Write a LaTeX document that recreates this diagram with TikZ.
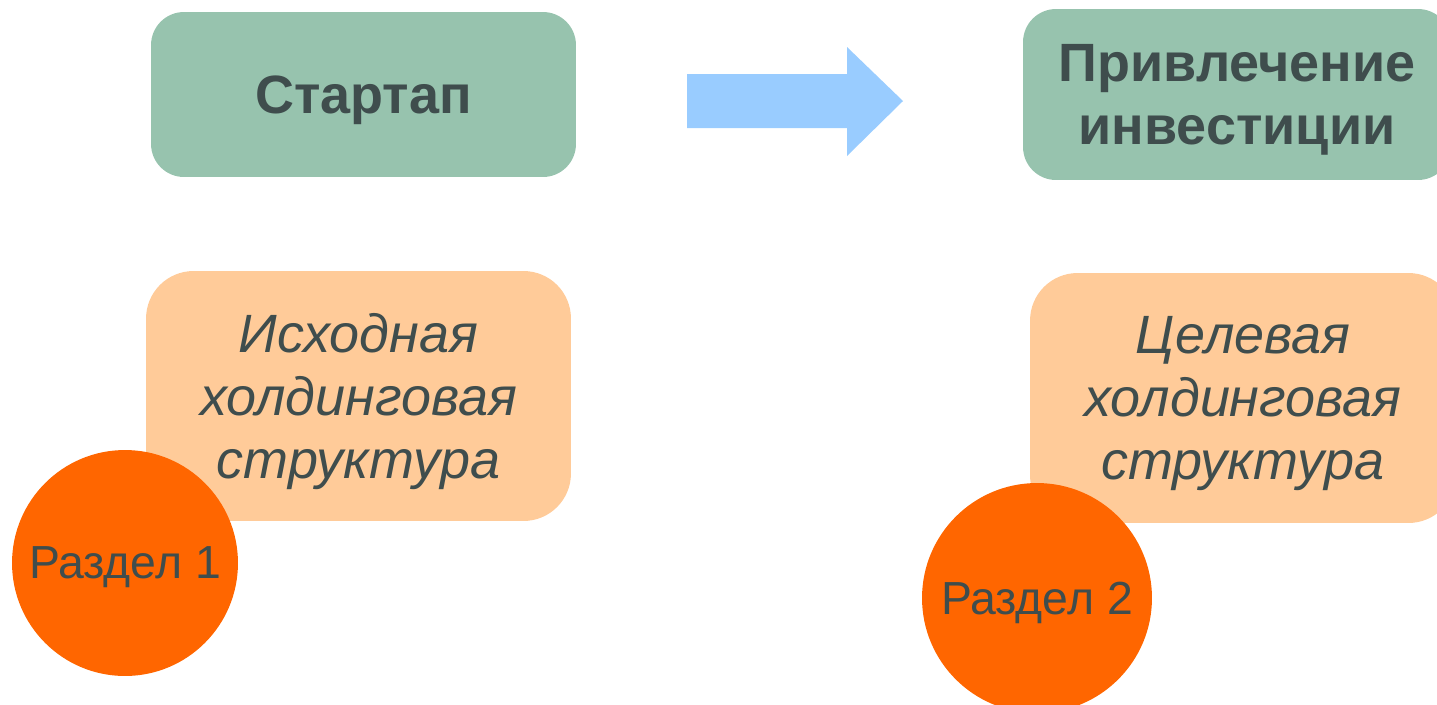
\documentclass[tikz,border=0pt]{standalone}
\usepackage{fontspec}
\setmainfont{Liberation Sans}
\usetikzlibrary{positioning}

\definecolor{stagegreen}{HTML}{97C3AE}
\definecolor{holdpeach}{HTML}{FFCB99}
\definecolor{sectorange}{HTML}{FF6600}
\definecolor{arrowblue}{HTML}{99CCFF}
\definecolor{textgrey}{HTML}{3F4D4D}

\tikzstyle{stage}=[fill=stagegreen,rounded corners=0.66cm,text=textgrey,align=center,inner sep=0pt,text depth=-0.1cm,font=\bfseries\fontsize{30.7}{35.9}\selectfont]
\tikzstyle{holding}=[fill=holdpeach,rounded corners=0.95cm,text=textgrey,align=center,inner sep=0pt,text depth=-0.09cm,font=\itshape\fontsize{30.7}{35.9}\selectfont]
\tikzstyle{sectioncircle}=[fill=sectorange,circle,text=textgrey,inner sep=0pt,text depth=0pt,font=\fontsize{26.4}{30}\selectfont]
\tikzstyle{bigarrow}=[fill=arrowblue]

\begin{document}
\begin{tikzpicture}[x=0.02cm, y=-0.02cm]
    \useasboundingbox (0,0) rectangle (1437,704);
    % First the two stages on top
    \node[stage, minimum width=8.5cm, minimum height=3.3cm] (startup) at (363.5,94.5) {Стартап};
    \node[stage, minimum width=8.56cm, minimum height=3.42cm] (invest) at (1237,94.5) {Привлечение\\инвестиции};
    % Block arrow between them
    \fill[bigarrow] (687,74) -- (847,74) -- (847,47) -- (903,101) -- (847,156) -- (847,128) -- (687,128) -- cycle;
    % Holding structures
    \node[holding, minimum width=8.5cm, minimum height=5cm] (source) at (358.5,396) {Исходная\\холдинговая\\структура};
    \node[holding, minimum width=8.52cm, minimum height=5cm] (target) at (1243,398) {Целевая\\холдинговая\\структура};
    % Sections drawn over the corners
    \foreach \pos/\name/\size/\num in {{(125,563)/sec1/4.52cm/1}, {(1037,598)/sec2/4.6cm/2}}
        \node[sectioncircle, minimum size=\size] (\name) at \pos {Раздел \num};
\end{tikzpicture}
\end{document}
